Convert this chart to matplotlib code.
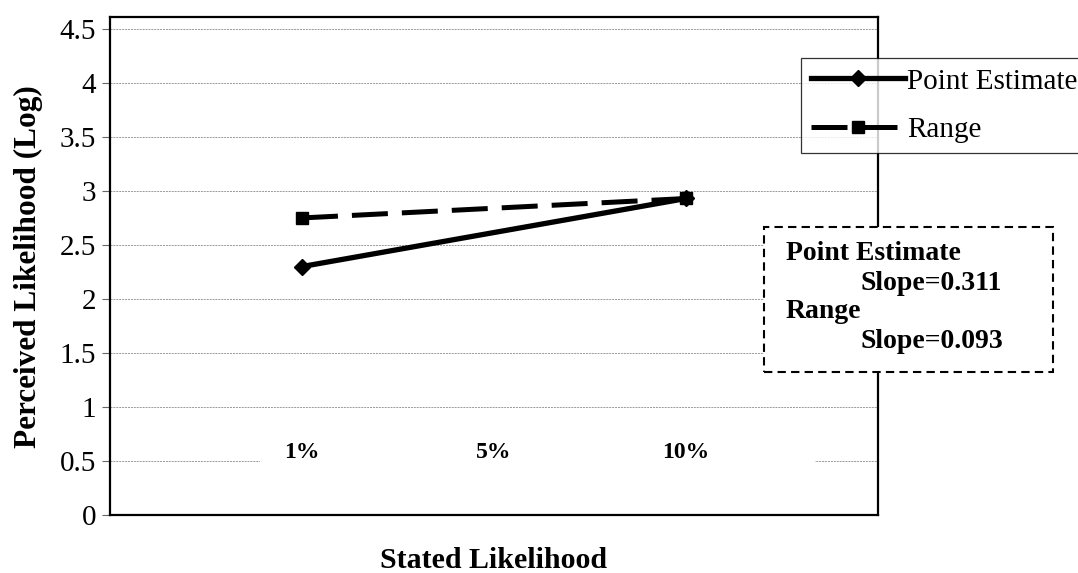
import matplotlib.pyplot as plt
from matplotlib.patches import Rectangle

# stated likelihood categories and where they sit on the x axis
categories = ['1%', '5%', '10%']
cat_pos = [1, 2, 3]

# perceived likelihood (log) at the 1% and 10% conditions
measured_pos = [1, 3]
point_estimate = [2.30, 2.93]
range_est = [2.75, 2.93]

slopes = {'Point Estimate': 0.311, 'Range': 0.093}

plt.rcParams['font.family'] = ['Liberation Serif', 'DejaVu Serif']

fig = plt.figure(figsize=(10.78, 5.73), dpi=100)
ax = fig.add_axes([0.102, 0.1012, 0.7125, 0.8691])

ax.set_xlim(0, 4)
ax.set_ylim(0, 4.61)
ax.set_yticks([0, 0.5, 1, 1.5, 2, 2.5, 3, 3.5, 4, 4.5])
ax.set_yticklabels(['0', '0.5', '1', '1.5', '2', '2.5', '3', '3.5', '4', '4.5'])
ax.set_xticks([])
ax.tick_params(axis='y', labelsize=21, length=6, width=0.8, color='#666666', pad=4)
ax.yaxis.grid(True, color='#999999', linewidth=0.7, linestyle=(0, (2, 1)))
ax.set_axisbelow(True)
for side in ax.spines.values():
    side.set_linewidth(1.6)
    side.set_color('black')

ax.plot(measured_pos, point_estimate, color='black', lw=3.8, marker='D',
        markersize=8, label='Point Estimate', zorder=4)
ax.plot(measured_pos, range_est, color='black', lw=3.6, marker='s',
        markersize=9, dashes=(7.2, 2.8), label='Range', zorder=3)

# category labels sit inside the plot on a white band
ax.add_patch(Rectangle((cat_pos[0] - 0.22, 0.42), cat_pos[-1] - cat_pos[0] + 0.89, 0.3,
                       facecolor='white', edgecolor='none', zorder=1))
for x, lab in zip(cat_pos, categories):
    ax.text(x, 0.58, lab, ha='center', va='center', fontsize=17,
            fontweight='bold', zorder=2)

fig.text(0.026, 0.535, 'Perceived Likelihood (Log)', rotation=90, ha='center',
         va='center', fontsize=22.5, fontweight='bold')
fig.text(0.458, 1 - 560 / 573, 'Stated Likelihood', ha='center', va='center',
         fontsize=21.5, fontweight='bold')

leg = fig.legend(loc='upper left', bbox_to_anchor=(801 / 1078, 1 - 58 / 573),
                 fontsize=21, frameon=True, fancybox=False, edgecolor='black',
                 handlelength=3.2, handletextpad=0.1, borderpad=0.35,
                 labelspacing=0.75, borderaxespad=0)
leg.get_frame().set_linewidth(0.9)

# slope summary box
box = Rectangle((764 / 1078, 1 - 372 / 573), 289 / 1078, 145 / 573,
                transform=fig.transFigure, facecolor='white', edgecolor='black',
                linewidth=1.5, linestyle=(0, (4, 2.5)), zorder=5)
fig.patches.append(box)
lines_y = [254, 284, 312, 342]
entries = list(slopes.items())
for i, (name, val) in enumerate(entries):
    fig.text(786 / 1078, 1 - lines_y[2 * i] / 573, name, ha='left', va='center',
             fontsize=20, fontweight='bold', zorder=6)
    fig.text(860 / 1078, 1 - lines_y[2 * i + 1] / 573, f'Slope={val:.3f}',
             ha='left', va='center', fontsize=20, fontweight='bold', zorder=6)

fig.savefig('out.png', dpi=100)
